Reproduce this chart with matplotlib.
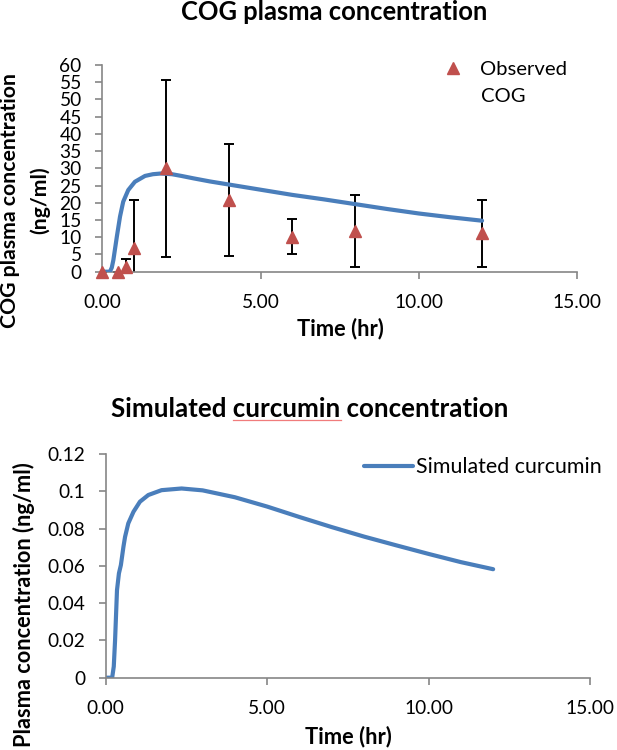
import matplotlib
matplotlib.use("Agg")
import matplotlib.pyplot as plt
from matplotlib.lines import Line2D
from matplotlib.ticker import FormatStrFormatter

plt.rcParams["font.family"] = ["Lato", "DejaVu Sans"]

# Observed COG plasma concentration (mean and SD), ng/ml
obs_time = [0, 0.5, 0.75, 1, 2, 4, 6, 8, 12]
obs_conc = [0, 0, 1.5, 6.8, 30.0, 20.8, 10.2, 11.9, 11.1]
obs_sd = [0, 0, 2.2, 14.0, 25.6, 16.2, 5.2, 10.4, 9.6]

# Simulated COG curve
cog_time = [0, 0.24, 0.3, 0.35, 0.46, 0.56, 0.66, 0.82, 1.03, 1.35, 1.6, 1.85,
            2.2, 2.5, 2.88, 3.4, 4, 5, 6, 7, 8, 9, 10, 11, 12]
cog_conc = [0, 0, 1.2, 3.4, 10.2, 16.0, 20.3, 23.7, 26.1, 27.8, 28.3, 28.5,
            28.3, 27.8, 27.1, 26.2, 25.3, 23.8, 22.3, 21.0, 19.6, 18.2, 16.9, 15.8, 14.8]

# Simulated curcumin curve
cur_time = [0, 0.2, 0.25, 0.29, 0.35, 0.41, 0.47, 0.55, 0.6, 0.7, 0.86, 1.06,
            1.32, 1.73, 2.35, 3.0, 4.0, 5.0, 6.0, 7.0, 8.0, 9.0, 10.0, 11.0, 12.0]
cur_conc = [0, 0, 0.006, 0.020, 0.047, 0.056, 0.0604, 0.0703, 0.0756, 0.0828,
            0.089, 0.0944, 0.098, 0.1006, 0.1015, 0.1005, 0.0968, 0.0918, 0.0862,
            0.0808, 0.0757, 0.071, 0.0664, 0.062, 0.0582]

x_ticks = [0, 5, 10, 15]
cog_yticks = list(range(0, 61, 5))
cur_yticks = [0, 0.02, 0.04, 0.06, 0.08, 0.1, 0.12]

BLUE = "#4A7EBB"
RED = "#C0504D"
GRAY = "#868686"
W, H = 617, 750

fig = plt.figure(figsize=(W / 100, H / 100), dpi=100)
r = fig.canvas.get_renderer()


def fit(text, width_px, weight="normal"):
    # font size that gives the text the width it has in the picture
    t = fig.text(0, 0, text, fontsize=10, fontweight=weight)
    w = t.get_window_extent(r).width
    t.remove()
    return 10 * width_px / w


def fx(px):
    return px / W


def fy(px):
    return 1 - px / H


tick_fs = fit("15.00", 49)

ax1 = fig.add_axes([fx(102.3), fy(271.7), fx(577) - fx(102.3), (271.7 - 65) / H])
ax2 = fig.add_axes([fx(105.7), fy(677.7), fx(590) - fx(105.7), (677.7 - 454) / H])


def style(ax):
    for s in ["top", "right"]:
        ax.spines[s].set_visible(False)
    for s in ["left", "bottom"]:
        ax.spines[s].set_color(GRAY)
        ax.spines[s].set_linewidth(1.2)
    ax.tick_params(direction="out", length=4.8, width=1.2, color=GRAY,
                   labelsize=tick_fs, labelcolor="black")
    ax.tick_params(axis="y", pad=10)
    ax.tick_params(axis="x", pad=11.5)
    ax.set_xlim(0, 15)
    ax.set_xticks(x_ticks)
    ax.xaxis.set_major_formatter(FormatStrFormatter("%.2f"))


# --- top: COG ---
style(ax1)
ax1.set_ylim(0, 60)
ax1.set_yticks(cog_yticks)
ax1.errorbar(obs_time, obs_conc, yerr=obs_sd, fmt="none", ecolor="black",
             elinewidth=1.4, capsize=3.6, capthick=1.4, zorder=2)
ax1.plot(cog_time, cog_conc, color=BLUE, lw=3, solid_capstyle="round",
         solid_joinstyle="round", zorder=3)
ax1.plot(obs_time, obs_conc, ls="none", marker="^", ms=8.5, color=RED,
         clip_on=False, zorder=4)

obs_fs = fit("Observed", 87)
obs_handle = Line2D([], [], ls="none", marker="^", ms=8.5, color=RED)
ax1.legend([obs_handle], ["Observed"], loc="upper left",
           bbox_to_anchor=(fx(440.7), fy(61)), bbox_transform=fig.transFigure,
           frameon=False, fontsize=obs_fs, handlelength=1.2, handletextpad=0.75,
           borderpad=0, borderaxespad=0)
fig.text(fx(481), fy(96.7), "COG", ha="left", va="center", fontsize=obs_fs)

fig.text(fx(334.6), fy(19.5), "COG plasma concentration", ha="center",
         va="baseline", fontsize=fit("COG plasma concentration", 307, "bold"),
         fontweight="bold")
ylab_fs = fit("COG plasma concentration", 255, "bold")
fig.text(fx(10), fy(200), "COG plasma concentration", rotation=90, ha="center",
         va="center", fontsize=ylab_fs, fontweight="bold")
fig.text(fx(40), fy(200), "(ng/ml)", rotation=90, ha="center", va="center",
         fontsize=ylab_fs, fontweight="bold")
fig.text(fx(340.5), fy(335), "Time (hr)", ha="center", va="baseline",
         fontsize=fit("Time (hr)", 87, "bold"), fontweight="bold")

# --- bottom: curcumin ---
style(ax2)
ax2.set_ylim(0, 0.12)
ax2.set_yticks(cur_yticks)
ax2.yaxis.set_major_formatter(FormatStrFormatter("%g"))
ax2.plot(cur_time, cur_conc, color=BLUE, lw=3, solid_capstyle="round",
         solid_joinstyle="round", label="Simulated curcumin")
cur_fs = fit("Simulated curcumin", 185)
ax2.legend(loc="upper left", bbox_to_anchor=(fx(364), fy(457)),
           bbox_transform=fig.transFigure, frameon=False, fontsize=cur_fs,
           handlelength=2.3, handletextpad=0.15, borderpad=0, borderaxespad=0)

title_fs = fit("Simulated curcumin concentration", 396, "bold")
title2 = fig.text(fx(310), fy(416.7), "Simulated curcumin concentration",
                  ha="center", va="baseline", fontsize=title_fs, fontweight="bold")
fig.text(fx(23.6), fy(604.5), "Plasma concentration (ng/ml)", rotation=90,
         ha="center", va="center",
         fontsize=fit("Plasma concentration (ng/ml)", 285, "bold"), fontweight="bold")
fig.text(fx(348), fy(743), "Time (hr)", ha="center", va="baseline",
         fontsize=fit("Time (hr)", 87, "bold"), fontweight="bold")

# spell-check underline under "curcumin" in the lower title
bb = title2.get_window_extent(r)
tmp = fig.text(0, 0, "Simulated curcumin", fontsize=title_fs, fontweight="bold")
w_full = tmp.get_window_extent(r).width
tmp.set_text("curcumin")
w_word = tmp.get_window_extent(r).width
tmp.remove()
x0 = (bb.x0 + w_full - w_word) / fig.bbox.width
x1 = (bb.x0 + w_full) / fig.bbox.width
fig.add_artist(Line2D([x0, x1], [fy(419.5), fy(419.5)], transform=fig.transFigure,
                      color="#F07C7C", lw=0.9))

fig.savefig("out.png", dpi=100)
